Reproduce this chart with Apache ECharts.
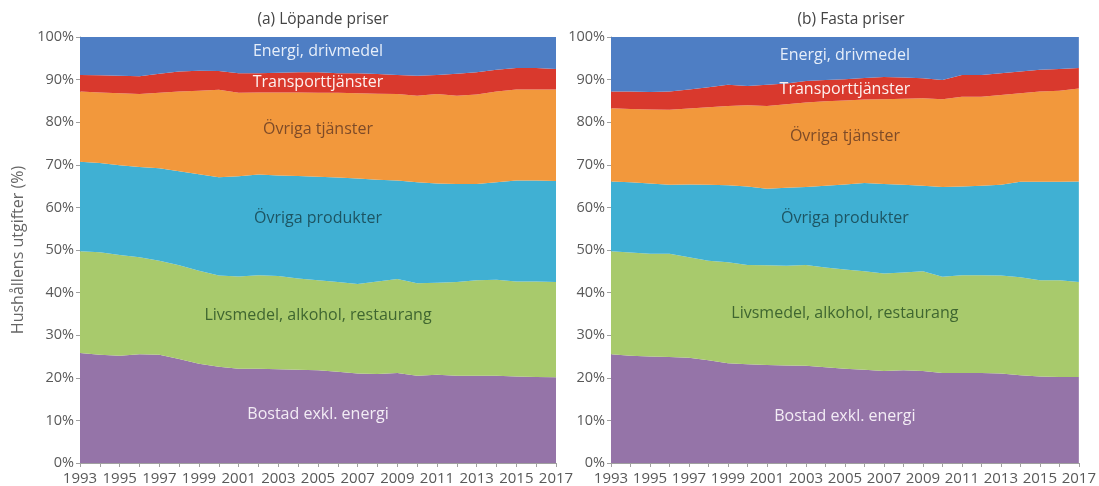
<!DOCTYPE html>
<html>
<head>
<meta charset="utf-8">
<script src="https://cdn.jsdelivr.net/npm/echarts@6.0.0/dist/echarts.min.js"></script>
<style>
  html, body { margin: 0; padding: 0; background: #fff; }
  #chart { width: 1099px; height: 486px; }
</style>
</head>
<body>
<div id="chart"></div>
<script>
const years = ['1993','1994','1995','1996','1997','1998','1999','2000','2001','2002','2003','2004',
  '2005','2006','2007','2008','2009','2010','2011','2012','2013','2014','2015','2016','2017']

const seriesNames = ['Bostad exkl. energi', 'Livsmedel, alkohol, restaurang', 'Övriga produkter',
  'Övriga tjänster', 'Transporttjänster', 'Energi, drivmedel']

// (a) Löpande priser, andel i procent
const lopBostad    = [25.8,25.4,25.2,25.5,25.4,24.4,23.3,22.6,22.1,22.1,22.0,21.9,21.8,21.4,21.0,20.9,21.1,20.5,20.7,20.5,20.5,20.5,20.3,20.2,20.1]
const lopLivsmedel = [23.9,24.1,23.6,22.8,22.1,22.0,21.8,21.4,21.7,22.0,21.9,21.4,21.1,21.1,21.0,21.7,22.1,21.7,21.6,22.0,22.4,22.5,22.3,22.4,22.4]
const lopProdukter = [21.0,20.9,21.1,21.2,21.7,22.1,22.7,23.1,23.5,23.6,23.6,24.1,24.3,24.5,24.8,23.9,23.1,23.7,23.3,23.0,22.6,22.9,23.7,23.7,23.7]
const lopTjanster  = [16.5,16.6,16.9,17.1,17.7,18.7,19.6,20.5,19.6,19.3,19.5,19.6,19.7,19.9,20.0,20.2,20.3,20.3,21.0,20.7,21.0,21.3,21.4,21.4,21.5]
const lopTransport = [3.9,4.0,4.1,4.2,4.5,4.7,4.7,4.4,4.6,4.5,4.6,4.7,4.8,4.6,4.7,4.6,4.5,4.7,4.5,5.2,5.2,5.1,5.0,5.0,4.8]
const lopEnergi    = [8.9,9.0,9.1,9.2,8.6,8.1,7.9,8.0,8.5,8.5,8.4,8.3,8.3,8.5,8.5,8.7,8.9,9.1,8.9,8.6,8.3,7.7,7.3,7.3,7.5]

// (b) Fasta priser, andel i procent
const fastBostad    = [25.5,25.2,25.0,24.9,24.7,24.1,23.4,23.2,23.0,22.9,22.8,22.5,22.1,21.9,21.6,21.8,21.6,21.1,21.1,21.1,21.0,20.6,20.3,20.2,20.2]
const fastLivsmedel = [24.2,24.2,24.1,24.2,23.6,23.4,23.7,23.3,23.4,23.4,23.7,23.4,23.3,23.1,22.9,22.9,23.4,22.6,23.0,23.0,23.0,23.0,22.6,22.7,22.3]
const fastProdukter = [16.4,16.5,16.5,16.2,17.1,17.8,18.1,18.4,18.0,18.3,18.3,19.2,20.0,20.7,21.0,20.6,20.1,21.1,20.8,21.0,21.3,22.4,23.1,23.1,23.6]
const fastTjanster  = [17.2,17.2,17.4,17.6,17.8,18.2,18.6,19.1,19.4,19.6,19.8,19.8,19.7,19.6,19.9,20.2,20.5,20.6,21.1,20.9,21.1,20.8,21.2,21.4,21.8]
const fastTransport = [3.9,4.1,4.1,4.3,4.5,4.7,5.0,4.5,5.0,4.9,5.1,5.0,5.0,5.1,5.2,5.0,4.7,4.5,5.1,5.1,5.1,5.1,5.1,5.1,4.8]
const fastEnergi    = [12.8,12.8,12.9,12.8,12.3,11.8,11.2,11.5,11.2,10.9,10.3,10.1,9.9,9.6,9.4,9.5,9.7,10.1,8.9,8.9,8.5,8.1,7.7,7.5,7.3]

const yTicks = [0, 10, 20, 30, 40, 50, 60, 70, 80, 90, 100]

const colors = ['#9574a8', '#a8ca6c', '#40b0d3', '#f2983c', '#d9392d', '#4e7ec4']
const labelColors = ['#f3ecf5', '#3f6630', '#1d5563', '#7e4b28', '#fdf1ef', '#e6eef9']

// etikettplacering (y i procent) för varje panel
const lopLabelY  = [11.4, 34.6, 57.4, 78.3, 89.4, 96.6]
const fastLabelY = [11.0, 35.0, 57.4, 76.6, 87.6, 95.6]

const font = '"Open Sans", Lato, sans-serif'
const chart = echarts.init(document.getElementById('chart'))

const lopData = [lopBostad, lopLivsmedel, lopProdukter, lopTjanster, lopTransport, lopEnergi]
const fastData = [fastBostad, fastLivsmedel, fastProdukter, fastTjanster, fastTransport, fastEnergi]

const makeSeries = (data, idx) => data.map((vals, i) => ({
  name: seriesNames[i],
  type: 'line',
  stack: 'total' + idx,
  xAxisIndex: idx,
  yAxisIndex: idx,
  data: vals,
  symbol: 'none',
  lineStyle: { width: 0 },
  areaStyle: { color: colors[i], opacity: 1 },
  itemStyle: { color: colors[i] },
  silent: true
}))

const axisX = idx => ({
  type: 'category',
  gridIndex: idx,
  data: years,
  boundaryGap: false,
  axisLine: { show: true, lineStyle: { color: '#a0a0a0' } },
  axisTick: { show: true, interval: 0, length: 4, lineStyle: { color: '#a0a0a0' } },
  axisLabel: { interval: 1, color: '#595959', fontSize: 15, fontFamily: font, margin: 8 },
  splitLine: { show: false }
})

const axisY = idx => ({
  type: 'value',
  gridIndex: idx,
  min: yTicks[0],
  max: yTicks[yTicks.length - 1],
  interval: 10,
  axisLine: { show: true, lineStyle: { color: '#a0a0a0' } },
  axisTick: { show: true, length: 4, lineStyle: { color: '#a0a0a0' } },
  axisLabel: { formatter: '{value}%', color: '#595959', fontSize: 14.5, fontFamily: font, margin: 6 },
  splitLine: { show: false },
  name: idx === 0 ? 'Hushållens utgifter (%)' : '',
  nameLocation: 'middle',
  nameGap: 54,
  nameTextStyle: { color: '#666', fontSize: 16, fontFamily: font }
})

chart.setOption({
  animation: false,
  title: [
    { text: '(a) Löpande priser', left: 318, top: 7, textAlign: 'center',
      textStyle: { fontSize: 15.5, fontWeight: 'normal', color: '#444', fontFamily: font } },
    { text: '(b) Fasta priser', left: 846, top: 7, textAlign: 'center',
      textStyle: { fontSize: 15.5, fontWeight: 'normal', color: '#444', fontFamily: font } }
  ],
  grid: [
    { left: 80, right: 543, top: 37, bottom: 23 },
    { left: 611, right: 18, top: 37, bottom: 23 }
  ],
  xAxis: [axisX(0), axisX(1)],
  yAxis: [axisY(0), axisY(1)],
  series: [...makeSeries(lopData, 0), ...makeSeries(fastData, 1)]
})

// etiketter inne i ytorna
const labels = []
const addLabels = (labelY, idx) => {
  labelY.forEach((v, i) => {
    const p = chart.convertToPixel({ gridIndex: idx }, [12, v])
    labels.push({
      type: 'text',
      x: p[0],
      y: p[1],
      style: {
        text: seriesNames[i],
        fill: labelColors[i],
        fontSize: 16,
        fontFamily: font,
        align: 'center',
        verticalAlign: 'middle'
      },
      z: 100,
      silent: true
    })
  })
}
addLabels(lopLabelY, 0)
addLabels(fastLabelY, 1)
chart.setOption({ graphic: { elements: labels } })
</script>
</body>
</html>
